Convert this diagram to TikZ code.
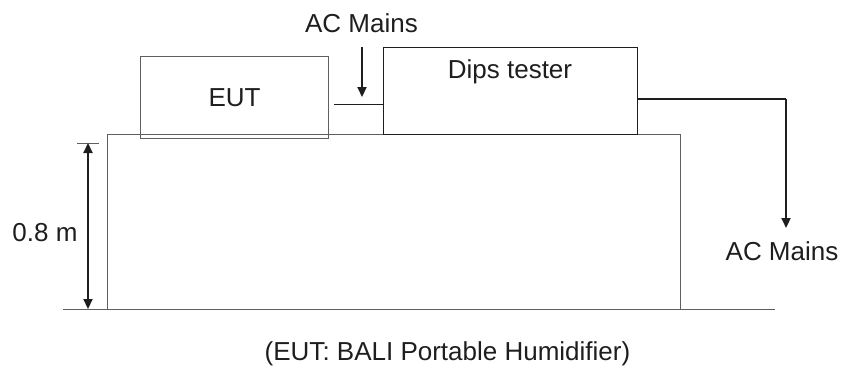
\documentclass[tikz,border=0pt]{standalone}
\usepackage{fontspec}
\setmainfont{Liberation Sans}
\usetikzlibrary{arrows.meta}
\definecolor{linegray}{RGB}{95,95,95}
\definecolor{ink}{RGB}{30,30,30}
\begin{document}
\begin{tikzpicture}[x=1pt,y=-1pt,
  txt/.style={font=\fontsize{26}{30}\selectfont, text=ink, inner sep=0pt},
  graybox/.style={draw=linegray, line width=1pt, inner sep=0pt},
  darkbox/.style={draw=ink, line width=1pt, inner sep=0pt},
  thinline/.style={draw=ink, line width=0.9pt},
  arr/.style={draw=ink, line width=2.2pt, -{Triangle[length=10pt,width=9pt]}},
  darr/.style={draw=ink, line width=2.2pt, {Triangle[length=10pt,width=9pt]}-{Triangle[length=10pt,width=9pt]}},
  cable/.style={draw=ink, line width=2pt}]
\useasboundingbox (0,0) rectangle (843,367);
% ground and table
\coordinate (g1) at (63,309);
\coordinate (g2) at (775,309);
\draw[linegray, line width=1pt] (g1) -- (g2);
\coordinate (t1) at (107,309);
\coordinate (t2) at (107,134);
\coordinate (t3) at (680,134);
\coordinate (t4) at (680,309);
\draw[linegray, line width=1pt] (t1) -- (t2) -- (t3) -- (t4);
% EUT
\node[graybox, minimum width=188pt, minimum height=82pt, anchor=north west, txt] (eut) at (140,56) {EUT};
% Dips tester
\node[darkbox, minimum width=254pt, minimum height=87pt, anchor=north west] (dips) at (383,47) {};
\node[txt, anchor=base] (dipslbl) at (510,78) {Dips tester};
% link between EUT and tester
\coordinate (l1) at (334,104);
\draw[thinline] (l1) -- (l1 -| dips.west);
% top AC mains
\node[txt, anchor=base] (acm1) at (361.5,32) {AC Mains};
\coordinate (a1) at (362,47);
\coordinate (a2) at (362,97);
\draw[arr] (a1) -- (a2);
% right cable
\coordinate (c0) at (637,99);
\coordinate (c1) at (786,99);
\coordinate (c2) at (786,228);
\draw[cable] (c0) -- (c1);
\draw[arr] (c1) -- (c2);
\node[txt, anchor=base] (acm2) at (782,260) {AC Mains};
% height dimension
\coordinate (d1) at (88,143);
\coordinate (d2) at (88,309);
\coordinate (k1) at (77,143);
\coordinate (k2) at (99,143);
\draw[linegray, line width=1pt] (k1) -- (k2);
\draw[darr] (d1) -- (d2);
\node[txt, anchor=base] (h) at (45,241) {0.8 m};
% caption
\node[txt, anchor=base] (cap) at (447.5,360) {(EUT: BALI Portable Humidifier)};
\end{tikzpicture}
\end{document}
